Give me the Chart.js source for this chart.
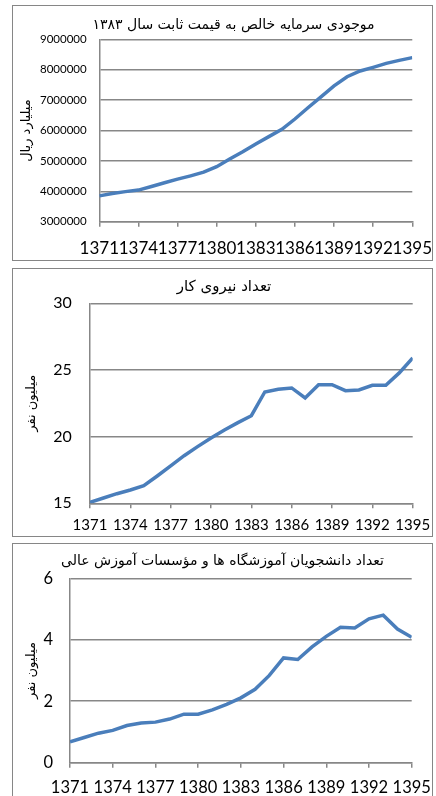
<!DOCTYPE html>
<html>
<head>
<meta charset="utf-8">
<script src="https://cdn.jsdelivr.net/npm/chart.js@4.4.0/dist/chart.umd.min.js"></script>
<style>
  body { margin: 0; background: #fff; width: 436px; height: 796px; overflow: hidden; position: relative; }
  .panel { position: absolute; left: 12px; width: 419px; border: 1px solid #868686; background: #fff; }
  .panel canvas { display: block; }
</style>
</head>
<body>
<div class="panel" style="top:5px;height:254px"><canvas id="capitalChart" width="419" height="254"></canvas></div>
<div class="panel" style="top:268px;height:267px"><canvas id="labourChart" width="419" height="267"></canvas></div>
<div class="panel" style="top:543px;height:256px"><canvas id="studentsChart" width="419" height="256"></canvas></div>
<script>
// data
const years = [1371, 1372, 1373, 1374, 1375, 1376, 1377, 1378, 1379, 1380, 1381, 1382, 1383,
               1384, 1385, 1386, 1387, 1388, 1389, 1390, 1391, 1392, 1393, 1394, 1395];
const xTickYears = [1371, 1374, 1377, 1380, 1383, 1386, 1389, 1392, 1395];

const capitalStock = [3850000, 3930000, 3990000, 4040000, 4160000, 4280000, 4400000, 4510000, 4630000,
                      4810000, 5060000, 5300000, 5560000, 5800000, 6040000, 6380000, 6750000, 7110000,
                      7470000, 7770000, 7960000, 8080000, 8210000, 8310000, 8400000];
const capitalTicks = [3000000, 4000000, 5000000, 6000000, 7000000, 8000000, 9000000];

const labourForce = [15.08, 15.4, 15.72, 16.0, 16.32, 17.05, 17.8, 18.57, 19.25, 19.9, 20.5, 21.05, 21.57,
                     23.35, 23.55, 23.65, 22.9, 23.9, 23.9, 23.45, 23.5, 23.85, 23.85, 24.78, 25.9];
const labourTicks = [15, 20, 25, 30];

const students = [0.68, 0.82, 0.96, 1.05, 1.21, 1.29, 1.32, 1.42, 1.58, 1.58, 1.72, 1.9, 2.11,
                  2.39, 2.84, 3.41, 3.36, 3.77, 4.11, 4.41, 4.38, 4.68, 4.8, 4.35, 4.08];
const studentTicks = [0, 2, 4, 6];

const lineColor = '#4a7ebb';
const gridColor = '#878787';
const arabicFont = '"DejaVu Sans", "Noto Sans", sans-serif';
const numFont = 'Lato, "Open Sans", sans-serif';

function makeChart(id, o) {
    return new Chart(document.getElementById(id), {
        type: 'line',
        data: {
            datasets: [{
                data: years.map((yr, i) => ({ x: yr, y: o.values[i] })),
                borderColor: lineColor,
                borderWidth: 3.5,
                pointRadius: 0,
                tension: 0,
                fill: false
            }]
        },
        options: {
            responsive: false,
            animation: false,
            layout: { padding: { left: o.padLeft, right: o.padRight, top: 0, bottom: 0 } },
            plugins: {
                legend: { display: false },
                tooltip: { enabled: false },
                title: {
                    display: true,
                    text: o.title,
                    color: '#000',
                    font: { family: arabicFont, size: o.titleFont, weight: 'normal' },
                    padding: o.titlePad
                }
            },
            scales: {
                x: {
                    type: 'linear',
                    min: years[0],
                    max: years[years.length - 1],
                    afterBuildTicks: s => { s.ticks = xTickYears.map(v => ({ value: v })); },
                    afterFit: s => { s.height = o.xHeight; },
                    grid: { drawOnChartArea: false, drawTicks: true, tickLength: 5, color: gridColor, lineWidth: 1.5 },
                    border: { color: gridColor, width: 1.5 },
                    ticks: {
                        autoSkip: false, maxRotation: 0, padding: 0, color: '#000',
                        // the line height sets how far below the axis the labels sit
                        font: { family: numFont, size: o.xFont, lineHeight: o.xLine },
                        callback: v => String(v)
                    }
                },
                y: {
                    min: o.yTicks[0],
                    max: o.yTicks[o.yTicks.length - 1],
                    afterBuildTicks: s => { s.ticks = o.yTicks.map(v => ({ value: v })); },
                    afterFit: s => { s.width = o.yWidth; },
                    grid: { drawTicks: false, color: gridColor, lineWidth: 1.5 },
                    border: { color: gridColor, width: 1.5 },
                    ticks: {
                        padding: o.yPad, color: '#000',
                        font: { family: numFont, size: o.yFont },
                        callback: v => String(v)
                    },
                    title: {
                        display: true,
                        text: o.yTitle,
                        color: '#000',
                        font: { family: arabicFont, size: 13 },
                        padding: { top: o.yTitlePad, bottom: 0 }
                    }
                }
            }
        }
    });
}

makeChart('capitalChart', {
    values: capitalStock, yTicks: capitalTicks,
    title: 'موجودی سرمایه خالص به قیمت ثابت سال ۱۳۸۳',
    yTitle: 'میلیارد ریال',
    padLeft: 22, padRight: 0, yWidth: 64.3, yTitlePad: -15.8, yPad: 12.6, yFont: 11.5,
    titleFont: 14, titlePad: { top: 10.6, bottom: 6 },
    xHeight: 38.3, xLine: '44px', xFont: 17
});

makeChart('labourChart', {
    values: labourForce, yTicks: labourTicks,
    title: 'تعداد نیروی کار',
    yTitle: 'میلیون نفر',
    padLeft: 22.3, padRight: 19.3, yWidth: 54.7, yTitlePad: -11.1, yPad: 18.3, yFont: 16,
    titleFont: 15, titlePad: { top: 9.5, bottom: 6.8 },
    xHeight: 32.7, xLine: '33.4px', xFont: 15
});

makeChart('studentsChart', {
    values: students, yTicks: studentTicks,
    title: 'تعداد دانشجویان آموزشگاه ها و مؤسسات آموزش عالی',
    yTitle: 'میلیون نفر',
    padLeft: 20.3, padRight: 20.3, yWidth: 36.7, yTitlePad: -9.6, yPad: 17, yFont: 16.5,
    titleFont: 14, titlePad: { top: 8.6, bottom: 8.9 },
    xHeight: 37.3, xLine: '39.6px', xFont: 16.5
});
</script>
</body>
</html>
